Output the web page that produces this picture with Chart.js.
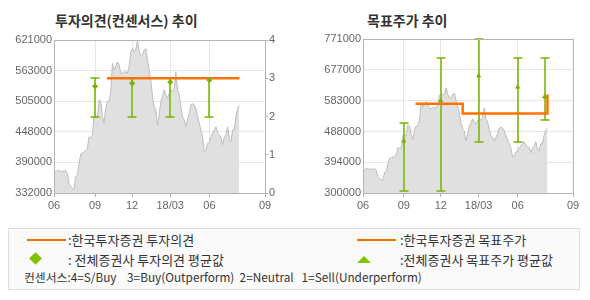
<!DOCTYPE html>
<html>
<head>
<meta charset="utf-8">
<script src="https://cdn.jsdelivr.net/npm/chart.js@4.4.0/dist/chart.umd.min.js"></script>
<style>
  body { margin: 0; width: 590px; height: 300px; position: relative; overflow: hidden; background: #fff;
         font-family: "Noto Sans CJK KR", sans-serif; color: #333; }
  .title { position: absolute; top: 12px; font-size: 14px; line-height: 16px; font-weight: bold; color: #333; white-space: nowrap; }
  canvas { position: absolute; top: 0; }
  #legend { position: absolute; left: 8px; top: 228px; width: 572px; height: 62px; box-sizing: border-box;
            border: 1px solid #dcdcdc; background: #fafafa; }
  .lg { position: absolute; font-size: 13px; line-height: 14px; white-space: pre; color: #333; }
  .lgline { position: absolute; height: 2px; background: #f07000; }
  .diamond { position: absolute; width: 9px; height: 9px; background: #80c300; transform: rotate(45deg); }
  .tri { position: absolute; width: 0; height: 0; border-left: 7px solid transparent; border-right: 7px solid transparent;
         border-bottom: 7px solid #80c300; }
  .note { position: absolute; font-size: 11.8px; line-height: 13px; white-space: pre; color: #333; }
</style>
</head>
<body>
<div class="title" style="left:55px">투자의견(컨센서스) 추이</div>
<div class="title" style="left:367px">목표주가 추이</div>
<canvas id="opinionChart" width="295" height="215" style="left:0"></canvas>
<canvas id="targetChart" width="295" height="215" style="left:295px"></canvas>

<div id="legend">
  <div class="lgline" style="left:18px;top:10px;width:39px"></div>
  <div class="lg" style="left:59px;top:4px">:한국투자증권 투자의견</div>
  <div class="lgline" style="left:348px;top:10px;width:39px"></div>
  <div class="lg" style="left:391px;top:4px">:한국투자증권 목표주가</div>
  <div class="diamond" style="left:22px;top:25px"></div>
  <div class="lg" style="left:59px;top:24px">: 전체증권사 투자의견 평균값</div>
  <div class="tri" style="left:348px;top:27px"></div>
  <div class="lg" style="left:391px;top:24px">:전체증권사 목표주가 평균값</div>
  <div class="note" style="left:15px;top:41px">컨센서스:4=S/Buy    3=Buy(Outperform)  2=Neutral   1=Sell(Underperform)</div>
</div>

<script>
// x axis: index of price samples (roughly every 2.5 trading days, Jun 2017 - Sep 2018)
const xTickPos = [0, 24.6, 46.8, 69.6, 93.1, 126.4];
const xTickLabels = ['06', '09', '12', '18/03', '06', '09'];

const price = [
  375000, 372000, 374000, 375000, 372000, 374000, 372000, 375000, 369000, 349000,
  344000, 341000, 339000, 363000, 366000, 388000, 406000, 408000, 410000, 412000,
  416000, 438000, 437000, 440000, 477000, 479000, 475000, 508000, 505000, 477000,
  464000, 492000, 505000, 505000, 523000, 577000, 564000, 571000, 580000, 574000,
  558000, 558000, 561000, 561000, 558000, 571000, 599000, 605000, 599000, 602000,
  621000, 602000, 590000, 593000, 602000, 605000, 583000, 564000, 545000, 514000,
  495000, 489000, 460000, 479000, 505000, 514000, 527000, 517000, 511000, 520000,
  527000, 523000, 530000, 561000, 527000, 517000, 495000, 476000, 470000, 457000,
  470000, 482000, 498000, 501000, 498000, 492000, 476000, 464000, 451000, 438000,
  410000, 413000, 426000, 426000, 438000, 445000, 451000, 457000, 445000, 442000,
  438000, 423000, 438000, 442000, 457000, 435000, 429000, 451000, 451000, 476000,
  492000, 498000
];

// left chart
const priceTicksL = [332000, 390000, 448000, 505000, 563000, 621000];
const opinionX = [31.7, 111.1];
const opinionVal = [3, 3];
const consX = [24.6, 46.8, 69.6, 93.1];
const consAvg = [2.79, 2.87, 2.90, 2.95];
const consLow = [2, 2, 2, 2];
const consHigh = [3, 3, 3, 3];

// right chart
const priceTicksR = [300000, 394000, 488000, 583000, 677000, 771000];
const targetX = [31.6, 60, 60, 111, 111];
const targetVal = [573000, 573000, 543000, 543000, 601000];
const tgtX = [24.6, 46.8, 69.6, 93.1, 109.3];
const tgtAvg = [459000, 582000, 658000, 624000, 594000];
const tgtLow = [305000, 305000, 455000, 455000, 522000];
const tgtHigh = [513000, 713000, 771000, 713000, 713000];

const GREEN = '#76b300';
const ORANGE = '#ff7200';
const GRID = '#e6e6e6';
const TICK_FONT = { family: 'Liberation Sans, Arial, sans-serif', size: 11 };

const toXY = (xs, ys) => xs.map((x, i) => ({ x: x, y: ys[i] }));

// range bars with caps, drawn right after the price area, plus box round the plot
const rangeBars = {
  id: 'rangeBars',
  afterDatasetDraw(chart, args, opts) {
    if (args.index !== 0 || !opts.xs) return;
    const ctx = chart.ctx;
    const xs = chart.scales.x, ys = chart.scales[opts.axis];
    ctx.save();
    ctx.strokeStyle = opts.color;
    ctx.lineWidth = 1.5;
    opts.xs.forEach((x, i) => {
      const px = Math.round(xs.getPixelForValue(x));
      const lo = Math.round(ys.getPixelForValue(opts.lows[i]));
      const hi = Math.round(ys.getPixelForValue(opts.highs[i]));
      ctx.beginPath();
      ctx.moveTo(px, lo); ctx.lineTo(px, hi);
      ctx.moveTo(px - 4.5, lo); ctx.lineTo(px + 4.5, lo);
      ctx.moveTo(px - 4.5, hi); ctx.lineTo(px + 4.5, hi);
      ctx.stroke();
    });
    ctx.restore();
  },
  afterDraw(chart) {
    const a = chart.chartArea, ctx = chart.ctx;
    ctx.save();
    ctx.strokeStyle = '#b4b4b4';
    ctx.lineWidth = 1;
    ctx.strokeRect(Math.round(a.left) + 0.5, Math.round(a.top) + 0.5,
                   Math.round(a.right - a.left), Math.round(a.bottom - a.top));
    ctx.restore();
  }
};

function xScale() {
  return {
    type: 'linear', min: 0, max: 126.4,
    afterBuildTicks: (s) => { s.ticks = xTickPos.map(v => ({ value: v })); },
    afterFit: (s) => { s.height = 22; },
    ticks: { autoSkip: false, maxRotation: 0, padding: 2, color: '#666', font: TICK_FONT,
             callback: (v, i) => xTickLabels[i] },
    grid: { color: GRID, tickLength: 4, tickColor: '#b4b4b4' },
    border: { display: false }
  };
}

function priceScale(ticksList, width) {
  return {
    type: 'linear', position: 'left',
    min: ticksList[0], max: ticksList[ticksList.length - 1],
    afterBuildTicks: (s) => { s.ticks = ticksList.map(v => ({ value: v })); },
    afterFit: (s) => { s.width = width; },
    ticks: { padding: 2, color: '#666', font: TICK_FONT, callback: (v) => String(v) },
    grid: { color: GRID, tickLength: 0 },
    border: { display: false }
  };
}

function priceDataset() {
  return {
    data: price.map((v, i) => ({ x: i, y: v })),
    yAxisID: 'y',
    borderColor: '#bdbdbd', borderWidth: 1,
    backgroundColor: '#e0e0e0', fill: 'start',
    pointRadius: 0, tension: 0, order: 3
  };
}

const common = {
  responsive: false,
  animation: false,
  layout: { padding: { top: 40, left: 0, right: 0, bottom: 0 } },
  plugins: { legend: { display: false }, tooltip: { enabled: false } }
};

new Chart(document.getElementById('opinionChart'), {
  type: 'line',
  data: {
    datasets: [
      priceDataset(),
      { data: toXY(opinionX, opinionVal), yAxisID: 'y2', borderColor: ORANGE, borderWidth: 2.5,
        pointRadius: 0, order: 1 },
      { data: toXY(consX, consAvg), yAxisID: 'y2', showLine: false, pointStyle: 'rectRot',
        pointRadius: 2.5, backgroundColor: GREEN, borderColor: GREEN, borderWidth: 1, order: 0 }
    ]
  },
  options: Object.assign({}, common, {
    scales: {
      x: xScale(),
      y: priceScale(priceTicksL, 54),
      y2: {
        type: 'linear', position: 'right', min: 0, max: 4,
        ticks: { stepSize: 1, padding: 1, color: '#666', font: TICK_FONT },
        afterFit: (s) => { s.width = 30; },
        grid: { drawOnChartArea: false, tickLength: 3, tickColor: '#b4b4b4' },
        border: { display: false }
      }
    },
    plugins: Object.assign({}, common.plugins, {
      rangeBars: { xs: consX, lows: consLow, highs: consHigh, axis: 'y2', color: GREEN }
    })
  }),
  plugins: [rangeBars]
});

new Chart(document.getElementById('targetChart'), {
  type: 'line',
  data: {
    datasets: [
      priceDataset(),
      { data: toXY(targetX, targetVal), yAxisID: 'y', borderColor: ORANGE, borderWidth: 2.5,
        pointRadius: 0, order: 1 },
      { data: toXY(tgtX, tgtAvg), yAxisID: 'y', showLine: false, pointStyle: 'triangle',
        pointRadius: 2.2, backgroundColor: GREEN, borderColor: GREEN, borderWidth: 1, order: 0 }
    ]
  },
  options: Object.assign({}, common, {
    layout: { padding: { top: 39, left: 0, right: 17, bottom: 0 } },
    scales: {
      x: xScale(),
      y: priceScale(priceTicksR, 68)
    },
    plugins: Object.assign({}, common.plugins, {
      rangeBars: { xs: tgtX, lows: tgtLow, highs: tgtHigh, axis: 'y', color: GREEN }
    })
  }),
  plugins: [rangeBars]
});
</script>
</body>
</html>
